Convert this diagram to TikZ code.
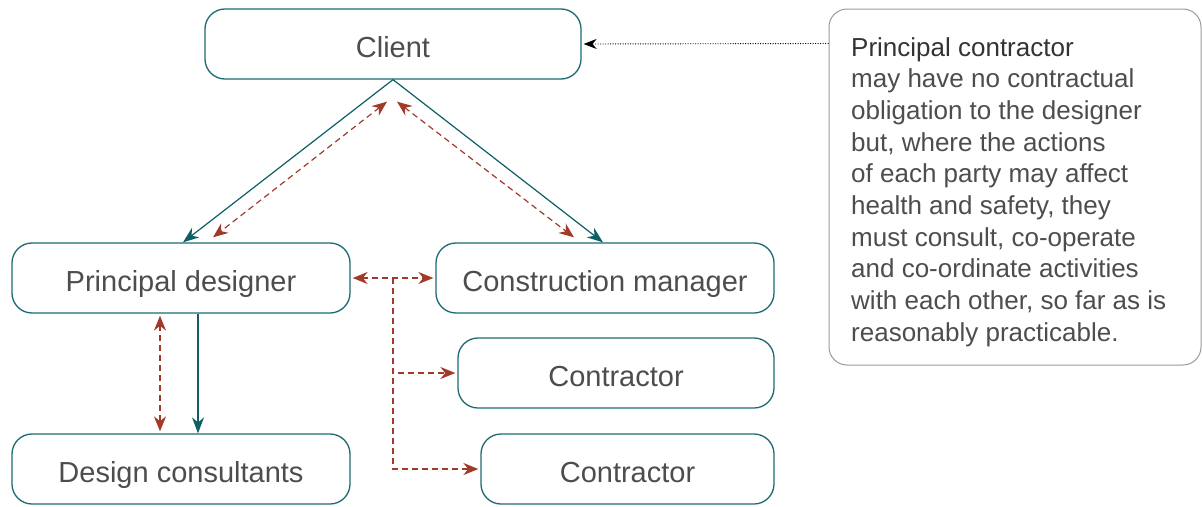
\documentclass[tikz,border=0pt]{standalone}
\usepackage{fontspec}
\setmainfont{Liberation Sans}
\usetikzlibrary{arrows.meta,calc}
\definecolor{teal}{HTML}{1C6B72}
\definecolor{tealarrow}{HTML}{0E5E66}
\definecolor{redarrow}{HTML}{A23A2A}
\definecolor{txt}{HTML}{4D4D4D}
\definecolor{notegray}{HTML}{9A9A9A}
\tikzset{
  box/.style={draw=teal, line width=1.3pt, rounded corners=20pt, inner sep=0pt,
    minimum height=70pt, text=txt, font=\fontsize{29}{34}\selectfont,
    text height=27pt, text depth=0pt},
  solidarrow/.style={draw=tealarrow, line width=1.2pt, -{Stealth[length=16pt,width=12pt]}},
  redarrow/.style={draw=redarrow, line width=1.2pt, dash pattern=on 6pt off 4pt,
    {Stealth[length=15pt,width=12pt]}-{Stealth[length=15pt,width=12pt]}},
  redone/.style={draw=redarrow, line width=1.2pt, dash pattern=on 6pt off 4pt,
    -{Stealth[length=15pt,width=12pt]}},
  redline/.style={draw=redarrow, line width=1.2pt, dash pattern=on 6pt off 4pt},
}
\begin{document}
\begin{tikzpicture}[x=1pt,y=-1pt]
\useasboundingbox (0,0) rectangle (1202,506);
\node[box, minimum width=376pt] (client) at (393,44) {Client};
\node[box, minimum width=338pt] (pd) at (181,278) {Principal designer};
\node[box, minimum width=338pt] (cm) at (605,278) {Construction manager};
\node[box, minimum width=316pt] (c1) at (616,373) {Contractor};
\node[box, minimum width=293pt] (c2) at (627.5,469) {Contractor};
\node[box, minimum width=338pt] (dc) at (181,469) {Design consultants};
\node[draw=notegray, line width=1pt, rounded corners=18pt, minimum width=372pt,
  minimum height=356pt, inner sep=0pt] (note) at (1015,187) {};
\node[anchor=north west, inner sep=0pt, align=left, text=txt,
  font=\fontsize{26}{31.7}\selectfont] (notetext) at (851,37)
  {{\color{black!80}Principal contractor}\\
   may have no contractual\\
   obligation to the designer\\
   but, where the actions\\
   of each party may affect\\
   health and safety, they\\
   must consult, co-operate\\
   and co-ordinate activities\\
   with each other, so far as is\\
   reasonably practicable.};
% client to pd / cm
\draw[solidarrow] (client.south) -- ([xshift=2pt]pd.north);
\draw[solidarrow] (client.south) -- ([xshift=-2pt]cm.north);
\draw[redarrow] ([xshift=-6pt,yshift=-22pt]client.south) -- ([xshift=32pt,yshift=5pt]pd.north);
\draw[redarrow] ([xshift=4pt,yshift=-22pt]client.south) -- ([xshift=-31pt,yshift=5pt]cm.north);
% pd to dc
\draw[solidarrow] ([xshift=17pt]pd.south) -- ([xshift=17pt]dc.north);
\draw[redarrow] ([xshift=-21pt,yshift=-2pt]pd.south) -- ([xshift=-21pt,yshift=2pt]dc.north);
% pd to cm and contractors
\draw[redarrow] ([xshift=2pt]pd.east) -- ([xshift=-2pt]cm.west);
\coordinate (br) at (393,278);
\draw[redline] (br) -- (393,373);
\draw[redone] (br) |- ([xshift=-2pt]c1.west);
\draw[redone] (br) |- ([xshift=-2pt]c2.west);
% note to client
\draw[black, line width=0.9pt, dash pattern=on 1pt off 1.5pt, -{Stealth[length=13pt,width=10pt]}]
  ([yshift=-35pt]note.north west) -- ([xshift=2pt]client.east);
\end{tikzpicture}
\end{document}
